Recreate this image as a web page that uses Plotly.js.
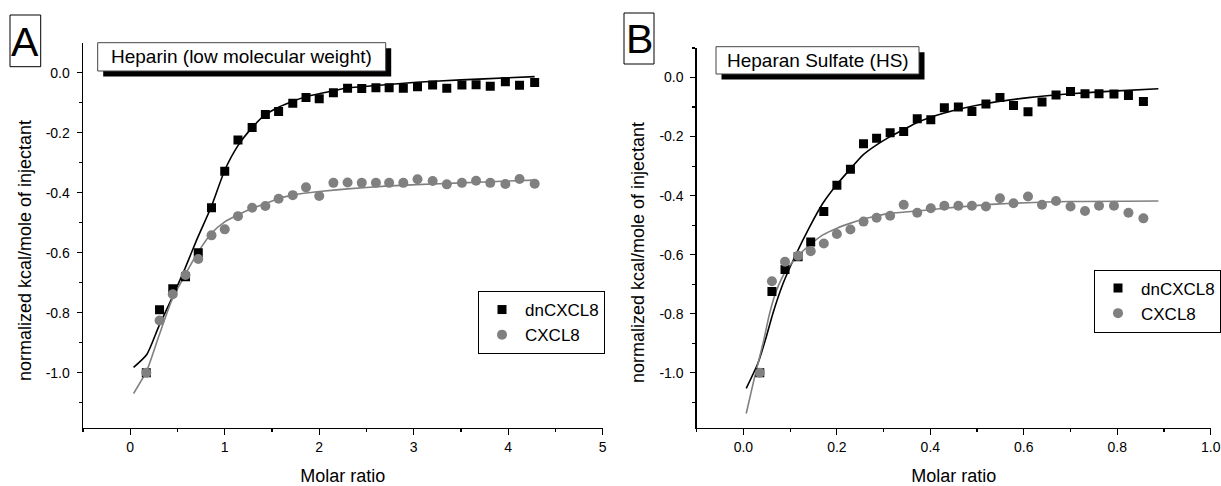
<!DOCTYPE html>
<html>
<head>
<meta charset="utf-8">
<script src="https://cdn.plot.ly/plotly-3.0.1.min.js"></script>
<style>
  html, body { margin: 0; padding: 0; background: #fff; }
  #chart { width: 1221px; height: 486px; }
</style>
</head>
<body>
<div id="chart"></div>
<script>
// ---------------- Data ----------------
// Panel A: Heparin (low molecular weight)
const molarA = [0.17, 0.31, 0.45, 0.585, 0.72, 0.86, 1.0, 1.14, 1.29, 1.43, 1.57, 1.72, 1.86, 2.0, 2.15, 2.30, 2.45, 2.60, 2.74, 2.89, 3.04, 3.20, 3.35, 3.51, 3.66, 3.81, 3.97, 4.12, 4.28];
const dnCXCL8_A = [-1.0, -0.79, -0.72, -0.68, -0.60, -0.45, -0.328, -0.224, -0.183, -0.139, -0.129, -0.102, -0.083, -0.087, -0.067, -0.052, -0.053, -0.050, -0.050, -0.052, -0.047, -0.041, -0.052, -0.041, -0.040, -0.045, -0.030, -0.042, -0.033];
const CXCL8_A = [-1.0, -0.826, -0.738, -0.674, -0.621, -0.542, -0.522, -0.478, -0.45, -0.444, -0.42, -0.408, -0.382, -0.411, -0.367, -0.366, -0.367, -0.367, -0.367, -0.367, -0.355, -0.361, -0.372, -0.367, -0.36, -0.367, -0.371, -0.354, -0.37];
// fitted curves, panel A
const fitMolarA = [0.035, 0.177, 0.30, 0.44, 0.58, 0.71, 0.86, 1.0, 1.14, 1.29, 1.43, 1.57, 1.72, 1.86, 2.0, 2.3, 2.7, 3.03, 3.5, 4.0, 4.28];
const fitDn_A = [-0.982, -0.938, -0.847, -0.752, -0.652, -0.552, -0.445, -0.325, -0.243, -0.183, -0.14, -0.115, -0.095, -0.08, -0.07, -0.051, -0.04, -0.032, -0.024, -0.017, -0.013];
const fitCx_A = [-1.069, -0.991, -0.88, -0.758, -0.674, -0.602, -0.535, -0.497, -0.474, -0.452, -0.436, -0.419, -0.408, -0.401, -0.396, -0.387, -0.378, -0.373, -0.367, -0.361, -0.358];

// Panel B: Heparan Sulfate (HS)
const molarB = [0.035, 0.061, 0.089, 0.117, 0.144, 0.172, 0.2, 0.229, 0.257, 0.285, 0.314, 0.343, 0.372, 0.401, 0.43, 0.46, 0.489, 0.519, 0.549, 0.578, 0.609, 0.639, 0.669, 0.70, 0.731, 0.761, 0.793, 0.824, 0.856];
const dnCXCL8_B = [-1.0, -0.725, -0.65, -0.607, -0.557, -0.454, -0.365, -0.311, -0.224, -0.206, -0.187, -0.183, -0.14, -0.143, -0.102, -0.1, -0.115, -0.09, -0.068, -0.095, -0.116, -0.083, -0.059, -0.047, -0.055, -0.055, -0.056, -0.061, -0.081];
const CXCL8_B = [-1.0, -0.69, -0.624, -0.604, -0.588, -0.562, -0.53, -0.515, -0.488, -0.475, -0.468, -0.431, -0.458, -0.443, -0.434, -0.434, -0.434, -0.437, -0.409, -0.426, -0.403, -0.431, -0.418, -0.437, -0.452, -0.434, -0.434, -0.458, -0.477];
// fitted curves, panel B
const fitMolarB_dn = [0.006, 0.031, 0.049, 0.063, 0.085, 0.11, 0.142, 0.17, 0.199, 0.228, 0.256, 0.285, 0.314, 0.343, 0.372, 0.43, 0.52, 0.61, 0.70, 0.79, 0.888];
const fitDn_B = [-1.053, -0.968, -0.878, -0.799, -0.697, -0.607, -0.505, -0.426, -0.364, -0.311, -0.262, -0.228, -0.2, -0.176, -0.152, -0.12, -0.088, -0.068, -0.055, -0.046, -0.038];
const fitMolarB_cx = [0.006, 0.024, 0.042, 0.056, 0.071, 0.092, 0.117, 0.142, 0.17, 0.199, 0.228, 0.256, 0.285, 0.313, 0.378, 0.43, 0.549, 0.70, 0.888];
const fitCx_B = [-1.138, -1.014, -0.9, -0.799, -0.72, -0.652, -0.604, -0.567, -0.533, -0.511, -0.494, -0.48, -0.469, -0.46, -0.451, -0.443, -0.428, -0.42, -0.418];

// Tick labels
const yTickVals = [0, -0.2, -0.4, -0.6, -0.8, -1.0];
const yTickText = ['0.0', '-0.2', '-0.4', '-0.6', '-0.8', '-1.0'];
const xTickValsA = [0, 1, 2, 3, 4, 5];
const xTickTextA = ['0', '1', '2', '3', '4', '5'];
const xTickValsB = [0, 0.2, 0.4, 0.6, 0.8, 1.0];
const xTickTextB = ['0.0', '0.2', '0.4', '0.6', '0.8', '1.0'];

const seriesNames = ['dnCXCL8', 'CXCL8'];
const panelTitles = ['Heparin (low molecular weight)', 'Heparan Sulfate (HS)'];
const panelLetters = ['A', 'B'];
const xTitle = 'Molar ratio';
const yTitle = 'normalized kcal/mole of injectant';

// ---------------- Styling / layout ----------------
const W = 1221, H = 486;
const FONT = 'Liberation Sans, Arial, Helvetica, sans-serif';
const BLACK = '#000000', GRAY = '#808080';
const fx = p => p / W;
const fy = p => 1 - p / H;

function fitTrace(x, y, color, xa, ya) {
  return { x, y, xaxis: xa, yaxis: ya, type: 'scatter', mode: 'lines',
    line: { color, width: 1.6, shape: 'spline', smoothing: 0.6 }, showlegend: false, hoverinfo: 'skip' };
}
function dataTrace(x, y, name, symbol, color, size, xa, ya, leg) {
  return { x, y, name, xaxis: xa, yaxis: ya, type: 'scatter', mode: 'markers', legend: leg,
    marker: { symbol, color, size, line: { width: 0 } } };
}

const traces = [
  fitTrace(fitMolarA, fitDn_A, BLACK, 'x', 'y'),
  fitTrace(fitMolarA, fitCx_A, GRAY, 'x', 'y'),
  dataTrace(molarA, dnCXCL8_A, seriesNames[0], 'square', BLACK, 9, 'x', 'y', 'legend'),
  dataTrace(molarA, CXCL8_A, seriesNames[1], 'circle', GRAY, 10, 'x', 'y', 'legend'),
  fitTrace(fitMolarB_dn, fitDn_B, BLACK, 'x2', 'y2'),
  fitTrace(fitMolarB_cx, fitCx_B, GRAY, 'x2', 'y2'),
  dataTrace(molarB, dnCXCL8_B, seriesNames[0], 'square', BLACK, 9, 'x2', 'y2', 'legend2'),
  dataTrace(molarB, CXCL8_B, seriesNames[1], 'circle', GRAY, 10, 'x2', 'y2', 'legend2'),
];

function xAxis(domain, range, vals, text, minorDt, anchor) {
  return {
    domain, range, anchor, tickmode: 'array', tickvals: vals, ticktext: text,
    ticks: 'outside', ticklen: 6, tickwidth: 1.2, tickcolor: BLACK,
    minor: { tickmode: 'linear', tick0: 0, dtick: minorDt, ticks: 'outside', ticklen: 3, tickwidth: 1.2, tickcolor: BLACK, showgrid: false },
    showline: true, linecolor: BLACK, linewidth: 1.4, mirror: false,
    showgrid: false, zeroline: false, automargin: false,
    tickfont: { family: FONT, size: 14, color: BLACK },
    title: { text: xTitle, font: { family: FONT, size: 18, color: BLACK }, standoff: 18 }
  };
}
function yAxis(domain, range, anchor) {
  return {
    domain, range, anchor, tickmode: 'array', tickvals: yTickVals, ticktext: yTickText,
    ticks: 'outside', ticklen: 5, tickwidth: 1.2, tickcolor: BLACK,
    minor: { tickmode: 'linear', tick0: 0, dtick: 0.1, ticks: 'outside', ticklen: 3, tickwidth: 1.2, tickcolor: BLACK, showgrid: false },
    showline: true, linecolor: BLACK, linewidth: 1.4, mirror: false,
    showgrid: false, zeroline: false, automargin: false,
    ticklabelstandoff: 4,
    tickfont: { family: FONT, size: 14, color: BLACK }
  };
}

// boxes: [x0,y0,x1,y1] in pixels
const titleBoxes = [[97.7, 42.7, 385.7, 71], [716, 46.7, 919, 74]];
const letterBoxes = [[10, 15, 40.7, 66.7], [624, 13, 654, 64]];
const yTitlePos = [[25, 251], [638, 253]];
const shadowOff = 5.5;

const shapes = [];
const annotations = [];
titleBoxes.forEach((b, i) => {
  shapes.push({ type: 'rect', xref: 'paper', yref: 'paper', layer: 'above',
    x0: fx(b[0] + shadowOff), x1: fx(b[2] + shadowOff), y0: fy(b[1] + shadowOff), y1: fy(b[3] + shadowOff),
    fillcolor: BLACK, line: { width: 0 } });
  shapes.push({ type: 'rect', xref: 'paper', yref: 'paper', layer: 'above',
    x0: fx(b[0]), x1: fx(b[2]), y0: fy(b[1]), y1: fy(b[3]),
    fillcolor: '#ffffff', line: { color: '#444444', width: 1 } });
  annotations.push({ xref: 'paper', yref: 'paper', x: fx((b[0] + b[2]) / 2), y: fy((b[1] + b[3]) / 2),
    xanchor: 'center', yanchor: 'middle', showarrow: false, text: panelTitles[i],
    font: { family: FONT, size: 19, color: BLACK } });
});
letterBoxes.forEach((b, i) => {
  shapes.push({ type: 'rect', xref: 'paper', yref: 'paper', layer: 'above',
    x0: fx(b[0]), x1: fx(b[2]), y0: fy(b[1]), y1: fy(b[3]),
    fillcolor: 'rgba(0,0,0,0)', line: { color: BLACK, width: 1 } });
  annotations.push({ xref: 'paper', yref: 'paper', x: fx((b[0] + b[2]) / 2), y: fy((b[1] + b[3]) / 2 + 1),
    xanchor: 'center', yanchor: 'middle', showarrow: false, text: panelLetters[i],
    font: { family: FONT, size: 41, color: BLACK } });
});
yTitlePos.forEach(p => {
  annotations.push({ xref: 'paper', yref: 'paper', x: fx(p[0]), y: fy(p[1]),
    xanchor: 'center', yanchor: 'middle', showarrow: false, textangle: -90, text: yTitle,
    font: { family: FONT, size: 18, color: BLACK } });
});

const legendStyle = (x, y) => ({
  x: fx(x), y: fy(y), xanchor: 'left', yanchor: 'top',
  bgcolor: '#ffffff', bordercolor: BLACK, borderwidth: 1, itemwidth: 36,
  font: { family: FONT, size: 17, color: BLACK }, tracegroupgap: 0, itemclick: false
});

const layout = {
  width: W, height: H,
  margin: { l: 0, r: 0, t: 0, b: 0 },
  paper_bgcolor: '#ffffff', plot_bgcolor: '#ffffff',
  font: { family: FONT, color: BLACK },
  showlegend: true,
  xaxis: xAxis([fx(83), fx(602.7)], [-0.5, 5], xTickValsA, xTickTextA, 0.5, 'y'),
  yaxis: yAxis([fy(427.7), fy(43)], [-1.183, 0.099], 'x'),
  xaxis2: xAxis([fx(696.7), fx(1210.7)], [-0.1, 1.0], xTickValsB, xTickTextB, 0.1, 'y2'),
  yaxis2: yAxis([fy(427.7), fy(48)], [-1.186, 0.1], 'x2'),
  legend: legendStyle(478, 291),
  legend2: legendStyle(1094, 269.5),
  shapes, annotations
};

Plotly.newPlot('chart', traces, layout, { staticPlot: true, displayModeBar: false });
</script>
</body>
</html>
